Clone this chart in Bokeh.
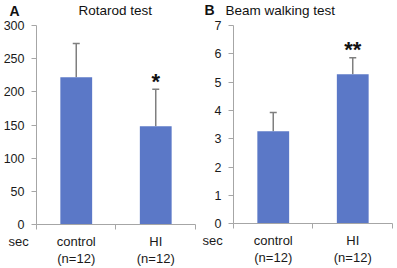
from bokeh.plotting import figure
from bokeh.layouts import row
from bokeh.models import Range1d, FixedTicker, Label, Whisker, ColumnDataSource, TeeHead
from bokeh.embed import file_html
from bokeh.resources import INLINE

groups = ["control", "HI"]
group_n = ["(n=12)", "(n=12)"]
rotarod_mean = [222, 148]
rotarod_sd = [51, 56]
beam_mean = [3.27, 5.28]
beam_sd = [0.66, 0.58]
rotarod_ticks = [0, 50, 100, 150, 200, 250, 300]
beam_ticks = [0, 1, 2, 3, 4, 5, 6, 7]
rotarod_stars = ["", "*"]
beam_stars = ["", "**"]

FONT = "Liberation Sans"
BAR = "#5B78C7"
AXIS = "#A6A6A6"
ERR = "#7F7F7F"
TXT = "#1a1a1a"


def panel(letter, title, means, sds, ymax, ticks, stars, width, x_rng, y_rng,
          title_x, title_align, letter_x, sec_x):
    p = figure(width=width, height=268, output_backend="svg", toolbar_location=None,
               x_range=Range1d(*x_rng), y_range=Range1d(*y_rng), min_border=0)
    p.outline_line_color = None
    p.grid.visible = False
    xs = [0.5, 1.5]
    p.vbar(x=xs, top=means, width=0.4, fill_color=BAR, line_color=None)
    src = ColumnDataSource(dict(x=xs, lo=means, hi=[m + s for m, s in zip(means, sds)]))
    w = Whisker(source=src, base="x", lower="lo", upper="hi", line_color=ERR, line_width=1.5,
                upper_head=TeeHead(size=7, line_color=ERR, line_width=1.5), lower_head=None)
    p.add_layout(w)
    # y axis drawn at x = 0 inside the frame
    p.yaxis.fixed_location = 0
    p.yaxis.bounds = (0, ymax)
    p.yaxis.ticker = FixedTicker(ticks=ticks)
    p.yaxis.axis_line_color = AXIS
    p.yaxis.major_tick_line_color = AXIS
    p.yaxis.major_tick_out = 5
    p.yaxis.major_tick_in = 0
    p.yaxis.minor_tick_line_color = None
    p.yaxis.major_label_text_font = FONT
    p.yaxis.major_label_text_font_size = "12.5px"
    p.yaxis.major_label_text_color = TXT
    p.yaxis.major_label_standoff = 7
    # x axis drawn at y = 0 inside the frame
    p.xaxis.fixed_location = 0
    p.xaxis.bounds = (0, 2)
    p.xaxis.ticker = FixedTicker(ticks=[0, 1, 2])
    p.xaxis.axis_line_color = AXIS
    p.xaxis.major_tick_line_color = AXIS
    p.xaxis.major_tick_out = 5
    p.xaxis.major_tick_in = 0
    p.xaxis.minor_tick_line_color = None
    p.xaxis.major_label_overrides = {0: "", 1: "", 2: ""}
    for x, g, n, s, m, sd in zip(xs, groups, group_n, stars, means, sds):
        p.add_layout(Label(x=x, y=0, y_offset=-17, text=g, text_align="center", text_baseline="middle",
                           text_font=FONT, text_font_size="13px", text_color=TXT))
        p.add_layout(Label(x=x, y=0, y_offset=-34, text=n, text_align="center", text_baseline="middle",
                           text_font=FONT, text_font_size="13px", text_color=TXT))
        if s:
            p.add_layout(Label(x=x, y=m + sd, y_offset=8, text=s, text_align="center", text_baseline="middle",
                               text_font=FONT, text_font_size="22px", text_font_style="bold",
                               text_color="#111111"))
    p.add_layout(Label(x=sec_x, y=0, y_offset=-17, text="sec", text_align="left", text_baseline="middle",
                       text_font=FONT, text_font_size="13px", text_color=TXT))
    p.add_layout(Label(x=letter_x, y=ymax, y_offset=15, text=letter, text_align="left", text_baseline="middle",
                       text_font=FONT, text_font_size="14px", text_font_style="bold", text_color="#111111"))
    p.add_layout(Label(x=title_x, y=ymax, y_offset=15, text=title, text_align=title_align, text_baseline="middle",
                       text_font=FONT, text_font_size="13.5px", text_color="#111111"))
    return p


p1 = panel("A", "Rotarod test", rotarod_mean, rotarod_sd, 300, rotarod_ticks, rotarod_stars,
           197, (-0.4528, 2.0252), (-66.33, 337.69), 0.99, "center", -0.34, -0.352)
p2 = panel("B", "Beam walking test", beam_mean, beam_sd, 7, beam_ticks, beam_stars,
           200, (-0.4528, 2.0629), (-1.578, 7.882), -0.1, "left", -0.365, -0.39)

layout = row(p1, p2)
open("out.html", "w").write(file_html(layout, INLINE))
